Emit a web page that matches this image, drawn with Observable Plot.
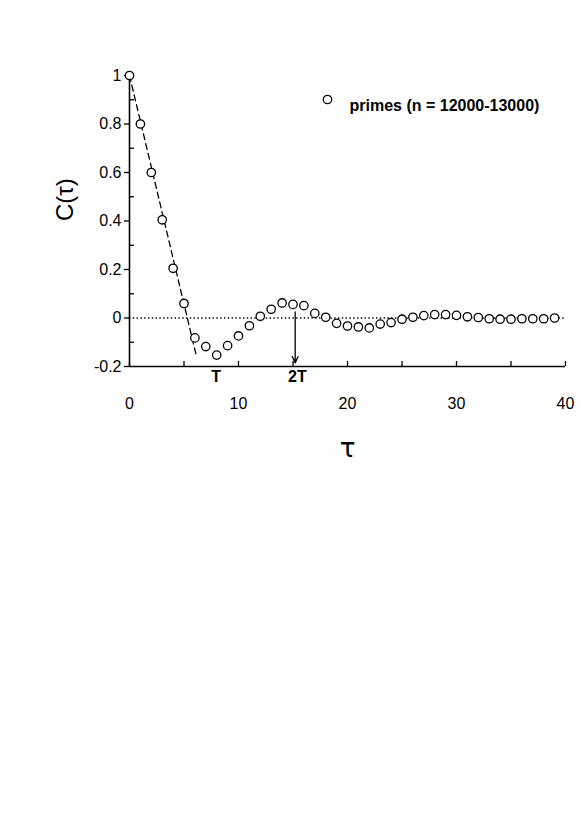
<!DOCTYPE html>
<html>
<head>
<meta charset="utf-8">
<script src="https://cdn.jsdelivr.net/npm/d3@7"></script>
<script src="https://cdn.jsdelivr.net/npm/@observablehq/plot@0.6"></script>
<style>
  html, body { margin: 0; padding: 0; background: #fff; }
  svg { font-family: "Liberation Sans", Arial, Helvetica, sans-serif; }
</style>
</head>
<body>
<div id="chart"></div>
<script>
// ---- data ----
const tau = [0,1,2,3,4,5,6,7,8,9,10,11,12,13,14,15,16,17,18,19,20,21,22,23,24,25,26,27,28,29,30,31,32,33,34,35,36,37,38,39];
const corr = [1.0,0.80,0.60,0.405,0.205,0.06,-0.082,-0.118,-0.153,-0.114,-0.074,-0.032,0.007,0.036,0.062,0.056,0.051,0.019,0.003,-0.022,-0.033,-0.037,-0.041,-0.025,-0.019,-0.005,0.003,0.010,0.014,0.014,0.011,0.005,0.002,-0.003,-0.005,-0.005,-0.003,-0.003,-0.003,0.0];
const fitTau = [0, 6.1];
const fitC = [1.0, -0.15];
const arrowTau = 15.2, arrowFrom = 0.025, arrowTo = -0.185;
const periodLabels = ["T", "2T"];
const periodTau = [7.95, 15.4];
const xDomain = [0, 40];
const yDomain = [-0.2, 1];
const xTickValues = [0, 10, 20, 30, 40];
const xMinorValues = [0, 5, 10, 15, 20, 25, 30, 35, 40];
const yTickValues = [-0.2, 0, 0.2, 0.4, 0.6, 0.8, 1];
const yTickLabels = ["-0.2", "0", "0.2", "0.4", "0.6", "0.8", "1"];
const yMinorValues = [-0.1, 0.1, 0.3, 0.5, 0.7, 0.9];
const legendLabel = "primes (n = 12000-13000)";
const xLabel = "\u03c4";
const yLabel = "C(\u03c4)";

const points = tau.map((t, i) => ({tau: t, c: corr[i]}));
const fitLine = fitTau.map((t, i) => ({tau: t, c: fitC[i]}));
const periods = periodLabels.map((l, i) => ({label: l, tau: periodTau[i]}));

const chart = Plot.plot({
  width: 581,
  height: 838,
  marginLeft: 129,
  marginRight: 16,
  marginTop: 75,
  marginBottom: 472,
  style: {fontFamily: "Liberation Sans, Arial, sans-serif", background: "#fff", overflow: "visible"},
  x: {domain: xDomain},
  y: {domain: yDomain},
  marks: [
    // zero reference (dotted)
    Plot.ruleY([0], {stroke: "black", strokeWidth: 1.3, strokeDasharray: "1.4,2.4"}),
    // dashed linear fit
    Plot.line(fitLine, {x: "tau", y: "c", stroke: "black", strokeWidth: 1.3, strokeDasharray: "6,4"}),
    // arrow at 2T
    Plot.arrow([{x: arrowTau, y1: arrowFrom, y2: arrowTo}], {x1: "x", x2: "x", y1: "y1", y2: "y2", stroke: "black", strokeWidth: 1.3, headLength: 8, headAngle: 50}),
    // axis lines
    Plot.ruleX([xDomain[0]], {y1: yDomain[0], y2: yDomain[1], stroke: "black", strokeWidth: 1.6}),
    Plot.ruleY([yDomain[0]], {x1: xDomain[0], x2: xDomain[1], stroke: "black", strokeWidth: 1.6}),
    // y axis major (outward) and minor (inward)
    Plot.axisY({ticks: yTickValues, tickSize: 5, tickPadding: 3, tickFormat: (d) => yTickLabels[yTickValues.indexOf(d)], fontSize: 16, label: null, strokeWidth: 1.3}),
    Plot.axisY({ticks: yMinorValues, tickSize: -5, tickFormat: () => "", label: null, strokeWidth: 1.3}),
    // x axis ticks (inward) and labels
    Plot.axisX({ticks: xMinorValues, tickSize: -5, tickFormat: () => "", label: null, strokeWidth: 1.3}),
    Plot.axisX({ticks: xTickValues, tickSize: 0, tickPadding: 31, fontSize: 16, label: null}),
    // period labels
    Plot.text(periods, {x: "tau", frameAnchor: "bottom", dy: 15, text: "label", fontWeight: "bold", fontSize: 16, fill: "black"}),
    // data points
    Plot.dot(points, {x: "tau", y: "c", r: 4.2, stroke: "black", fill: "white", strokeWidth: 1.3}),
    // axis titles
    Plot.text([yLabel], {frameAnchor: "left", dx: -64, rotate: -90, text: (d) => d, fontSize: 24, fill: "black"}),
    Plot.text([xLabel], {frameAnchor: "bottom", dy: 90, text: (d) => d, fontSize: 26, fontFamily: "DejaVu Sans", fill: "black"}),
    // legend
    Plot.dot([0], {frameAnchor: "top-left", dx: 198, dy: 24, r: 4.2, symbol: "circle", stroke: "black", fill: "white", strokeWidth: 1.3}),
    Plot.text([legendLabel], {frameAnchor: "top-left", dx: 220, dy: 24, text: (d) => d, textAnchor: "start", fontWeight: "bold", fontSize: 16, fill: "black"})
  ]
});
document.getElementById("chart").appendChild(chart);
</script>
</body>
</html>
